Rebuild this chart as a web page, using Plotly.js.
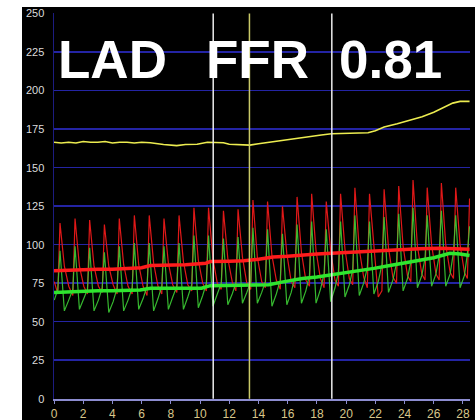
<!DOCTYPE html>
<html>
<head>
<meta charset="utf-8">
<script src="https://cdn.plot.ly/plotly-3.0.1.min.js"></script>
<style>
html,body{margin:0;padding:0;background:#ffffff;width:475px;height:420px;overflow:hidden;}
#chart{position:absolute;left:22px;top:7px;width:453px;height:413px;}
</style>
</head>
<body>
<div id="chart"></div>
<script>
// ---- data ----
// yellow trace (smooth top line)
const yellowX = [0,0.5,1,1.5,2,2.5,3,3.5,4,4.5,5,5.5,6,6.6,7.5,8.4,9,9.8,10.5,11,11.6,12,12.7,13.4,14,14.6,15.2,16,16.9,17.6,18.3,19,19.8,20.5,21.5,22.0,22.6,23.5,24.4,25.2,26,26.7,27.3,27.8,28.45];
const yellowY = [166.5,166,166.5,166,167,166.5,166.5,167,166,166.5,166.5,166,166.5,166.2,165,164.3,165,165.2,166.5,166.3,166.2,165.2,165,164.6,165.5,166.3,167.5,168.5,169.5,170.5,171.2,172,172.2,172.3,172.7,174,176.4,178.5,180.7,183,186,189,191.9,193,193];

// pulsatile traces: sample times (trough, peak, fall, late fall per beat)
const pulseX = [0.02,
 0.26,0.41,0.71,1.01, 1.29,1.44,1.74,2.04, 2.29,2.44,2.74,3.04, 3.30,3.45,3.75,4.05,
 4.32,4.47,4.77,5.07, 5.35,5.50,5.80,6.10, 6.37,6.52,6.82,7.12, 7.38,7.53,7.83,8.13,
 8.41,8.56,8.86,9.16, 9.43,9.58,9.88,10.18, 10.43,10.58,10.88,11.18, 11.45,11.60,11.90,12.20,
 12.45,12.60,12.90,13.20, 13.47,13.62,13.92,14.22, 14.47,14.62,14.92,15.22, 15.49,15.64,15.94,16.24,
 16.49,16.64,16.94,17.24, 17.49,17.64,17.94,18.24, 18.49,18.64,18.94,19.24, 19.47,19.62,19.92,20.22,
 20.45,20.60,20.90,21.20, 21.45,21.60,21.90,22.20, 22.45,22.60,22.90,23.20, 23.45,23.60,23.90,24.20,
 24.43,24.58,24.88,25.18, 25.40,25.55,25.85,26.15, 26.37,26.52,26.82,27.12, 27.35,27.50,27.80,28.10,
 28.30,28.45];
const redPulse = [76,
 68,114,86,73, 67,117,86,73, 68,116,86,73, 69,113,86,74,
 68,117,87,73, 68,119,87,73, 67,119,88,73, 68,117,88,74,
 69,119,89,74, 70,124,90,75, 70,124,91,75, 71,122,91,76,
 70,123,92,75, 71,129,92,76, 72,128,93,77, 71,125,94,76,
 72,131,95,77, 73,133,96,78, 72,128,96,77, 73,133,97,78,
 74,137,97,79, 72,133,98,66, 70,136,98,79, 75,138,99,80,
 76,142,99,81, 77,137,100,81, 77,140,100,82, 78,137,100,82,
 78,130];
const greenPulse = [64,
 71,96,57,64, 71,99,58,65, 71,98,57,64, 72,95,56,63,
 72,99,57,64, 72,101,58,65, 73,101,57,65, 73,99,58,66,
 73,101,58,66, 74,106,59,67, 75,106,60,68, 75,104,61,68,
 75,105,62,69, 76,111,62,69, 76,110,60,68, 77,107,61,69,
 79,113,62,70, 80,115,62,71, 81,110,63,72, 82,115,66,74,
 84,119,67,75, 85,115,68,76, 87,118,69,77, 88,120,70,78,
 89,124,72,80, 91,119,73,81, 93,122,73,81, 95,119,72,80,
 94,112];

// thick mean lines
const redMeanX = [0,1,2,3,4,5,6,6.6,8,9,10.4,10.7,12,13,14,15,16,17,18,19,20,21,22,23,24,25,26.4,27,28.45];
const redMeanY = [83,83.5,83.5,84,84,84.5,85,86.5,86.5,87,88,89,89.2,89.5,90.5,92,92.5,93.5,94,94.5,95,95.5,96,96.5,97,97.3,97.6,97.5,97];
const greenMeanX = [0,1,2,3,4,5,5.9,6.6,8,10.1,10.7,12,13,14,14.7,15.5,16.3,17,18,19,20,21,21.9,23,24,25.3,26,27.1,27.8,28.45];
const greenMeanY = [69,69.5,69.5,70,70,70.3,70.6,71.7,71.7,71.7,73.4,73.6,73.4,73.6,74,75.5,77,78,79,80.3,82,83,84.6,86.5,88,90,91.5,94.4,94,93];

// event markers (vertical lines)
const markerTimes = [10.9, 13.38, 19.02];
const markerColors = ['#ececec', '#c9c968', '#ececec'];

// axis ticks
const yTicks = [0,25,50,75,100,125,150,175,200,225,250];
const xTicks = [0,2,4,6,8,10,12,14,16,18,20,22,24,26,28];

// overlay texts
const labels = ['LAD', 'FFR', '0.81'];
const labelX = [0.15, 10.3, 19.4];

const traces = [
  {x: pulseX, y: redPulse, type: 'scatter', mode: 'lines', line: {color: '#e01818', width: 1.2}, hoverinfo: 'skip'},
  {x: pulseX, y: greenPulse, type: 'scatter', mode: 'lines', line: {color: '#3ccc34', width: 1.2}, opacity: 0.9, hoverinfo: 'skip'},
  {x: yellowX, y: yellowY, type: 'scatter', mode: 'lines', line: {color: '#ecec50', width: 1.6}, hoverinfo: 'skip'},
  {x: redMeanX, y: redMeanY, type: 'scatter', mode: 'lines', line: {color: '#ff1c1c', width: 3.5}, hoverinfo: 'skip'},
  {x: greenMeanX, y: greenMeanY, type: 'scatter', mode: 'lines', line: {color: '#2ee52e', width: 3.5}, hoverinfo: 'skip'}
];

const shapes = markerTimes.map((t, i) => ({
  type: 'line', xref: 'x', yref: 'y', x0: t, x1: t, y0: 0, y1: 250,
  line: {color: markerColors[i], width: 1.5}, layer: 'above'
}));

const annotations = labels.map((s, i) => ({
  text: s, x: labelX[i], y: 220, xref: 'x', yref: 'y', xanchor: 'left', yanchor: 'middle',
  showarrow: false,
  font: {family: 'Liberation Sans, Arial, sans-serif', size: 53, color: '#ffffff', weight: 'bold'}
}));

const layout = {
  width: 453, height: 413,
  margin: {l: 32, r: 5, t: 6, b: 21},
  paper_bgcolor: '#000000', plot_bgcolor: '#000000',
  showlegend: false,
  xaxis: {
    range: [0, 28.48], tickvals: xTicks, ticktext: xTicks.map(String),
    showgrid: false, zeroline: false,
    showline: true, linecolor: '#8c8cd0', linewidth: 2,
    ticks: 'outside', ticklen: 3, tickcolor: '#8c8cd0', tickwidth: 1,
    tickfont: {family: 'Liberation Sans, Arial, sans-serif', size: 12, color: '#d8c68a'}
  },
  yaxis: {
    range: [-0.2, 250.4], tickvals: yTicks, ticktext: yTicks.map(String),
    showgrid: true, gridcolor: '#2424a4', gridwidth: 1.5, zeroline: false,
    showline: true, linecolor: '#1c1c80', linewidth: 1.5,
    ticks: 'outside', ticklen: 6, tickcolor: 'rgba(0,0,0,0)',
    tickfont: {family: 'Liberation Sans, Arial, sans-serif', size: 11, color: '#dcdcdc'}
  },
  shapes: shapes,
  annotations: annotations
};

Plotly.newPlot('chart', traces, layout, {staticPlot: true, displayModeBar: false});
</script>
</body>
</html>
